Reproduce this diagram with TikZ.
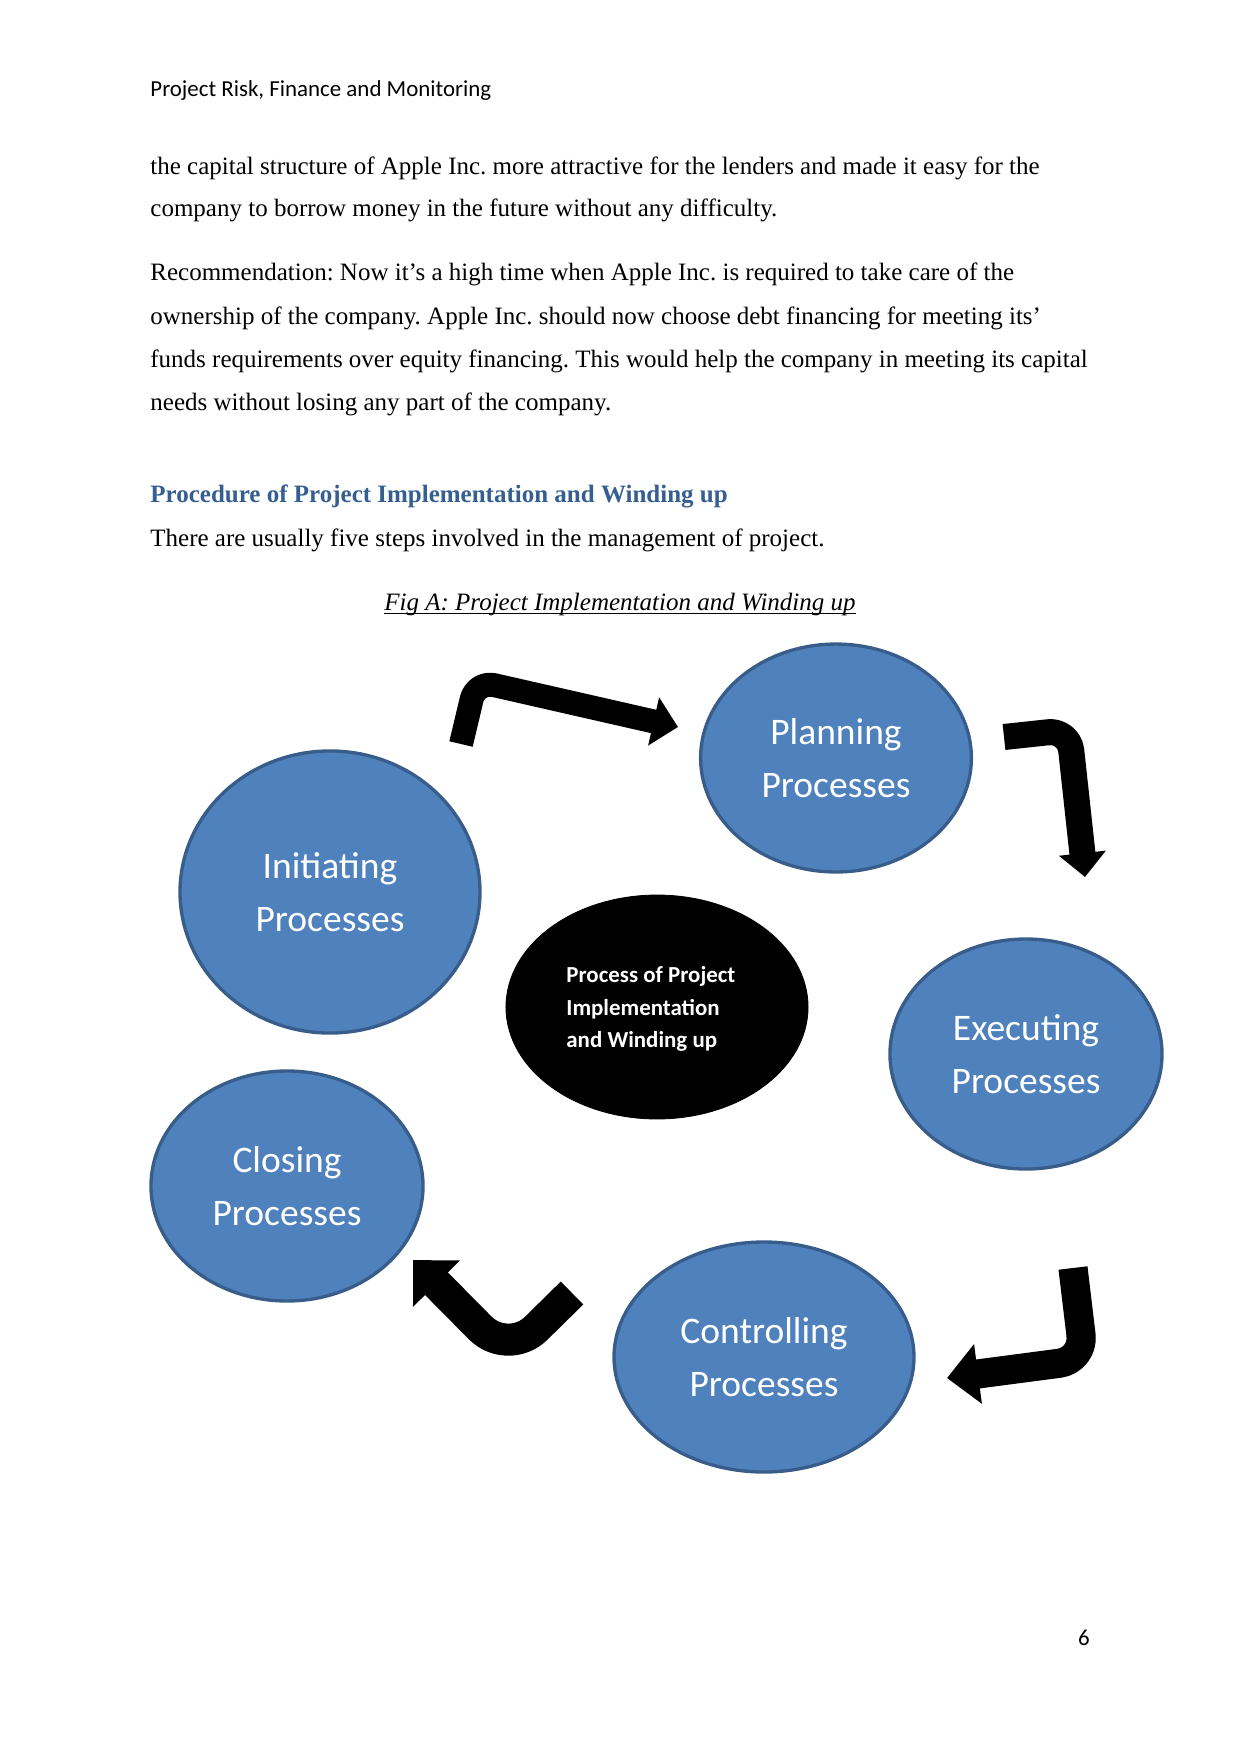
\documentclass[tikz,border=0pt]{standalone}
\usepackage{fontspec}
\setmainfont{Liberation Serif}
\newfontfamily\calibri{Carlito}
\usetikzlibrary{shapes.geometric,arrows.meta}
\definecolor{procblue}{HTML}{4F81BD}
\definecolor{procedge}{HTML}{385D8A}
\definecolor{headblue}{HTML}{365F91}
\frenchspacing
\begin{document}
\begin{tikzpicture}[x=0.48pt,y=-0.48pt,
  bodytext/.style={anchor=base west, inner sep=0, font=\fontsize{12}{14}\selectfont},
  proc/.style={ellipse, draw=procedge, line width=1.6pt, fill=procblue, text=white, inner sep=0, align=center, font=\calibri\fontsize{18}{25.2}\selectfont},
  bentarrow/.style={draw=black, line cap=butt, line join=round}
]
\useasboundingbox (0,0) rectangle (1241,1754);

% header and body text
\node[anchor=base west, inner sep=0, font=\calibri\fontsize{11}{13}\selectfont] (hdr) at (150,96) {Project Risk, Finance and Monitoring};
\node[bodytext] (l1) at (150,174.5) {the capital structure of Apple Inc. more attractive for the lenders and made it easy for the};
\node[bodytext] (l2) at (150,216.5) {company to borrow money in the future without any difficulty.};
\node[bodytext] (p1) at (150,280.5) {Recommendation: Now it’s a high time when Apple Inc. is required to take care of the};
\node[bodytext] (p2) at (150,324.5) {ownership of the company. Apple Inc. should now choose debt financing for meeting its’};
\node[bodytext] (p3) at (150,367.5) {funds requirements over equity financing. This would help the company in meeting its capital};
\node[bodytext] (p4) at (150,410.5) {needs without losing any part of the company.};
\node[bodytext, text=headblue, font=\bfseries\fontsize{12}{14}\selectfont] (head) at (150,502.5) {Procedure of Project Implementation and Winding up};
\node[bodytext] (intro) at (150,546.5) {There are usually five steps involved in the management of project.};
\node[anchor=base, inner sep=0, font=\itshape\fontsize{12}{14}\selectfont] (figcap) at (620,610.5) {Fig A: Project Implementation and Winding up};
\draw[line width=0.5pt] ([yshift=-1.4pt]figcap.base west) -- ([yshift=-1.4pt]figcap.base east);

% ellipses
\node[proc, minimum width=130pt, minimum height=109.4pt] (plan) at (836,758) {Planning\\Processes};
\node[proc, minimum width=144pt, minimum height=135.4pt] (init) at (330,892) {Initiating\\Processes};
\node[ellipse, fill=black, draw=black, inner sep=0, minimum width=145pt, minimum height=107.5pt] (core) at (657,1007) {};
\node[anchor=west, inner sep=0, text=white, align=left, font=\calibri\bfseries\fontsize{11}{15.6}\selectfont] (coretext) at (566,1009) {Process of Project\\Implementation\\and Winding up};
\node[proc, minimum width=130.6pt, minimum height=110.4pt] (exec) at (1026,1054) {Executing\\Processes};
\node[proc, minimum width=130.6pt, minimum height=110.4pt] (close) at (287,1186) {Closing\\Processes};
\node[proc, minimum width=144pt, minimum height=110.4pt] (ctrl) at (764,1357) {Controlling\\Processes};

% bent arrows
\coordinate (a1s) at (461,744);
\coordinate (a1c) at (476,681);
\coordinate (a1e) at (678,727);
\draw[bentarrow, line width=11.5pt, rounded corners=9pt, -{Triangle[width=23pt,length=12pt]}] (a1s) -- (a1c) -- (a1e);

\coordinate (a2s) at (1004,737);
\coordinate (a2c) at (1069,730);
\coordinate (a2e) at (1085,877);
\draw[bentarrow, line width=12.5pt, rounded corners=10pt, -{Triangle[width=22pt,length=11.5pt]}] (a2s) -- (a2c) -- (a2e);

\coordinate (a3s) at (1073,1268);
\coordinate (a3c) at (1084,1360);
\coordinate (a3e) at (947,1378);
\draw[bentarrow, line width=14pt, rounded corners=12pt, -{Triangle[width=28pt,length=15pt]}] (a3s) -- (a3c) -- (a3e);

\coordinate (a4s) at (572,1293);
\coordinate (a4c) at (508,1356);
\coordinate (a4e) at (413,1260);
\draw[bentarrow, line width=15.4pt, rounded corners=19pt, -{Triangle[width=30.7pt,length=16pt]}] (a4s) -- (a4c) -- (a4e);

% page number
\node[anchor=base, inner sep=0, font=\calibri\fontsize{11}{13}\selectfont] (pg) at (1084,1645) {6};
\end{tikzpicture}
\end{document}
